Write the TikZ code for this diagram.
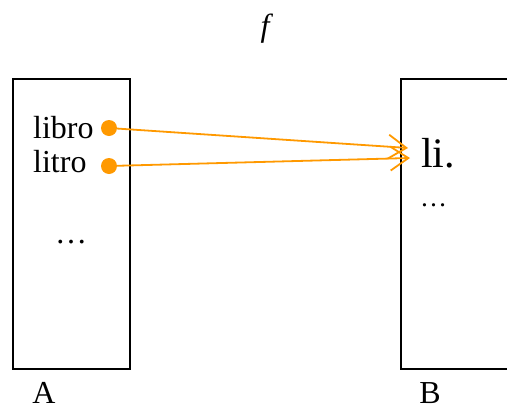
\documentclass[tikz,border=0pt]{standalone}
\usepackage{fontspec}
\setmainfont{Liberation Serif}
\usetikzlibrary{positioning, arrows.meta}
\definecolor{maporange}{RGB}{255,153,0}

\begin{document}
\begin{tikzpicture}[x=1pt, y=-1pt,
    setbox/.style={rectangle, draw, line width=1.3pt, minimum width=117pt,
    minimum height=290pt, inner sep=0pt},
    word/.style={anchor=base west, inner sep=0pt, font=\fontsize{32}{36}\selectfont},
    elem/.style={circle, fill=maporange, minimum size=16pt, inner sep=0pt},
    maparrow/.style={-{Straight Barb[length=18pt, width=24pt, line width=1.8pt]}, draw=maporange, line width=1.8pt}
]
\clip (0,0) rectangle (507,410);

% the two sets
\node[setbox] (setA) at (71.5,224) {};
\node[setbox] (setB) at (459.5,224) {};
\node[word, anchor=base] (labA) at (44,403) {A};
\node[word, anchor=base] (labB) at (430,403) {B};
\node[word, anchor=base, font=\fontsize{32}{36}\selectfont\itshape] (fname) at (265,36) {f};

% elements of A
\node[word] (libro) at (33,138) {libro};
\node[word] (litro) at (33,172) {litro};
\node[word] (moreA) at (55,243) {\ldots};
\node[elem] (libroDot) at (109,128) {};
\node[elem] (litroDot) at (109,166) {};

% elements of B
\node[word, font=\fontsize{42}{46}\selectfont] (li) at (421,167) {li.};
\node[word, font=\fontsize{27}{30}\selectfont] (moreB) at (420,206) {\ldots};
\coordinate (tipOne) at (408,148);
\coordinate (tipTwo) at (410,158);

\draw[maparrow] (libroDot) -- (tipOne);
\draw[maparrow] (litroDot) -- (tipTwo);

\end{tikzpicture}
\end{document}
